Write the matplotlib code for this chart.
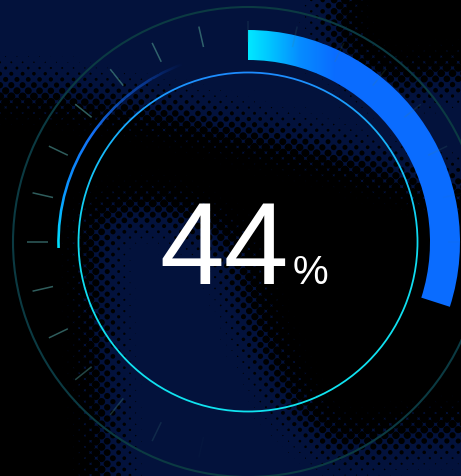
import numpy as np
import matplotlib
matplotlib.use("Agg")
import matplotlib.pyplot as plt
from matplotlib.patches import Wedge, Circle
from matplotlib.path import Path

# ---------------- data ----------------
value = 44                 # percent shown by the gauge
label_main = "44"
label_unit = "%"
gauge_start = 90.0         # screen degrees where the scale starts (top)
gauge_sweep = 245.0        # degrees (clockwise) that correspond to 100 %
n_ticks = 28

# ---------------- layout ----------------
W, H = 461, 476
cx, cy = 248.0, 242.0
R_OUT, BAR_W = 212.0, 30.0
R_THIN = 189.5
R_INNER = 169.5
R_RING = 235.0
T_R0, T_R1 = 200.0, 221.0

fig = plt.figure(figsize=(W / 100, H / 100), dpi=100)
fig.patch.set_facecolor("black")
ax = fig.add_axes([0, 0, 1, 1])
ax.set_xlim(0, W)
ax.set_ylim(H, 0)
ax.set_aspect("equal")
ax.axis("off")

yy, xx = np.mgrid[0:H, 0:W] + 0.5
ang = np.degrees(np.arctan2(-(yy - cy), xx - cx))  # screen angle, ccw
ang360 = np.mod(ang, 360)

# ---------------- halftone background ----------------
polys = [
    [(30, -80), (345, -80), (335, 40), (380, 85), (540, 60), (540, 205), (400, 178),
     (320, 152), (250, 136), (150, 112), (50, 95), (-80, 82), (-80, 20)],
    [(92, 215), (165, 203), (232, 240), (257, 322), (292, 400), (340, 446),
     (420, 432), (540, 420), (540, 560), (112, 560), (100, 380)],
]
pts = np.column_stack([xx.ravel(), yy.ravel()])
mask = np.zeros(H * W)
for p in polys:
    mask = np.maximum(mask, Path(p).contains_points(pts).astype(float))
mask = mask.reshape(H, W)


def box_blur(a, r):
    k = 2 * r + 1
    pad = np.pad(a, r, mode="edge")
    c = np.cumsum(pad, axis=0)
    c = np.vstack([np.zeros((1, c.shape[1])), c])
    a1 = (c[k:] - c[:-k]) / k
    c = np.cumsum(a1, axis=1)
    c = np.hstack([np.zeros((c.shape[0], 1)), c])
    return (c[:, k:] - c[:, :-k]) / k


f = box_blur(box_blur(mask, 22), 22)
s = 8.0
u = (xx + yy) / np.sqrt(2)
v = (xx - yy) / np.sqrt(2)
du = np.mod(u, s) - s / 2
dv = np.mod(v, s) - s / 2
d = np.sqrt(du ** 2 + dv ** 2)
rad = 6.0 * np.sqrt(np.clip(1 - f, 0, 1)) - 0.6
cov = np.clip(d - rad + 0.5, 0, 1) * np.clip(f * 6, 0, 1)
navy = np.array([3, 18, 60]) / 255.0
bg = cov[..., None] * navy
ax.imshow(bg, extent=(0, W, H, 0), interpolation="nearest", zorder=0)


def ring_image(rgba, patch, z):
    ax.add_patch(patch)
    im = ax.imshow(rgba, extent=(0, W, H, 0), interpolation="bilinear", zorder=z)
    im.set_clip_path(patch)


# ---------------- outer faint ring ----------------
ax.add_patch(Circle((cx, cy), R_RING, fill=False, edgecolor="#0b3a42", lw=1.5, zorder=2))

# ---------------- inner thin circle (gradient by height) ----------------
rgba = np.zeros((H, W, 4))
yk = [73, 160, 240, 411]
rgba[..., 0] = np.interp(yy, yk, [30, 22, 16, 16]) / 255
rgba[..., 1] = np.interp(yy, yk, [140, 190, 220, 228]) / 255
rgba[..., 2] = np.interp(yy, yk, [255, 250, 240, 240]) / 255
rgba[..., 3] = 1.0
ring_image(rgba, Wedge((cx, cy), R_INNER + 0.9, 0, 360, width=1.8,
                       facecolor="none", edgecolor="none"), 3)

# ---------------- thin left arc ----------------
rgba = np.zeros((H, W, 4))
ak = [110, 122, 145, 165, 182]
rgba[..., 0] = np.interp(ang360, ak, [10, 14, 20, 10, 0]) / 255
rgba[..., 1] = np.interp(ang360, ak, [60, 80, 112, 150, 232]) / 255
rgba[..., 2] = np.interp(ang360, ak, [170, 200, 245, 255, 255]) / 255
rgba[..., 3] = np.interp(ang360, ak, [0.0, 0.55, 1.0, 1.0, 1.0])
ring_image(rgba, Wedge((cx, cy), R_THIN + 1.3, 178.2, 250, width=2.6,
                       facecolor="none", edgecolor="none"), 3)

# ---------------- value bar ----------------
end_angle = gauge_start - value / 100.0 * gauge_sweep
rgba = np.zeros((H, W, 4))
xk = [246, 268, 300, 335]
rgba[..., 0] = np.interp(xx, xk, [0, 0, 6, 10]) / 255
rgba[..., 1] = np.interp(xx, xk, [236, 200, 140, 108]) / 255
rgba[..., 2] = 1.0
rgba[..., 3] = 1.0
ring_image(rgba, Wedge((cx, cy), R_OUT, -gauge_start, -end_angle, width=BAR_W,
                       facecolor="none", edgecolor="none"), 4)

# ---------------- ticks ----------------
for k in range(n_ticks):
    a = gauge_start + k * 360.0 / n_ticks
    am = np.mod(a, 360)
    if 95 <= am <= 205:
        alpha = 0.75
    elif 205 < am <= 260:
        alpha = 0.75 * (260 - am) / 55.0
    elif am < 95:
        alpha = 0.18 if am > 20 else 0.05
    else:
        alpha = 0.0
    if alpha <= 0.01:
        continue
    ar = np.radians(a)
    xs = [cx + T_R0 * np.cos(ar), cx + T_R1 * np.cos(ar)]
    ys = [cy - T_R0 * np.sin(ar), cy - T_R1 * np.sin(ar)]
    ax.plot(xs, ys, color="#3f7d7c", lw=1.1, alpha=alpha, solid_capstyle="butt", zorder=5)

# ---------------- labels ----------------
ax.text(159.5, 284, label_main, fontsize=84, family="Liberation Sans", color="white",
        ha="left", va="baseline", zorder=6)
ax.text(292.5, 284, label_unit, fontsize=29, family="Liberation Sans", color="white",
        ha="left", va="baseline", zorder=6)

fig.savefig("out.png", dpi=100, facecolor="black")
